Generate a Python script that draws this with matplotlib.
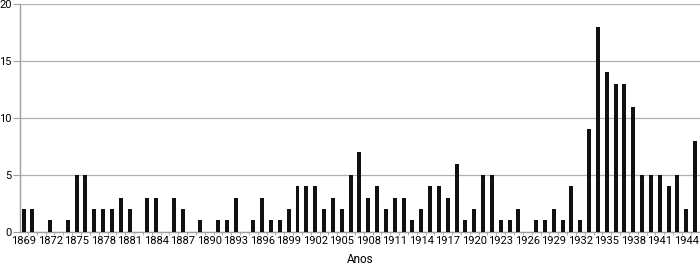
import matplotlib
matplotlib.use("Agg")
import matplotlib.pyplot as plt
import numpy as np

years = list(range(1869, 1946))
values = [2, 2, 0, 1, 0, 1, 5, 5, 2, 2, 2, 3, 2, 0, 3, 3, 0, 3,   # 1869-1886
          2, 0, 1, 0, 1, 1, 3, 0, 1, 3, 1, 1, 2, 4, 4, 4, 2, 3,   # 1887-1904
          2, 5, 7, 3, 4, 2, 3, 3, 1, 2, 4, 4, 3, 6, 1, 2, 5, 5,   # 1905-1922
          1, 1, 2, 0, 1, 1, 2, 1, 4, 1, 9, 18, 14, 13, 13, 11,    # 1923-1938
          5, 5, 5, 4, 5, 2, 8]                                    # 1939-1945
yticks = [0, 5, 10, 15, 20]
xlabel = "Anos"

plt.rcParams['font.family'] = ['Roboto', 'DejaVu Sans']
fig = plt.figure(figsize=(7, 2.65), dpi=100)
ax = fig.add_axes([0.029, 0.125, 0.971, 0.86])

x = np.arange(len(years))
ax.bar(x, values, width=0.45, color='#111111', zorder=3)

ax.set_ylim(0, 20)
ax.set_xlim(-0.37, len(years) - 0.45)
ax.set_yticks(yticks)
ax.yaxis.grid(True, color='#b0b0b0', linewidth=0.9, zorder=0)
ax.tick_params(axis='y', length=5, color='#a0a0a0', labelsize=8, pad=1)

tick_idx = list(range(0, len(years), 3))
ax.set_xticks(tick_idx)
ax.set_xticklabels([str(years[i]) for i in tick_idx], fontsize=8)
ax.set_xticks(np.arange(len(years)) + 0.5, minor=True)
ax.tick_params(axis='x', which='major', length=0, pad=3)
ax.tick_params(axis='x', which='minor', length=2, color='#a0a0a0')
for t in ax.get_xticklabels():
    t.set_x(0)
ax.set_xlabel(xlabel, fontsize=8.5, labelpad=5)

for side in ['top', 'right']:
    ax.spines[side].set_visible(False)
for side in ['left', 'bottom']:
    ax.spines[side].set_color('#a0a0a0')
    ax.spines[side].set_linewidth(1.0)

fig.savefig("out.png", dpi=100)
